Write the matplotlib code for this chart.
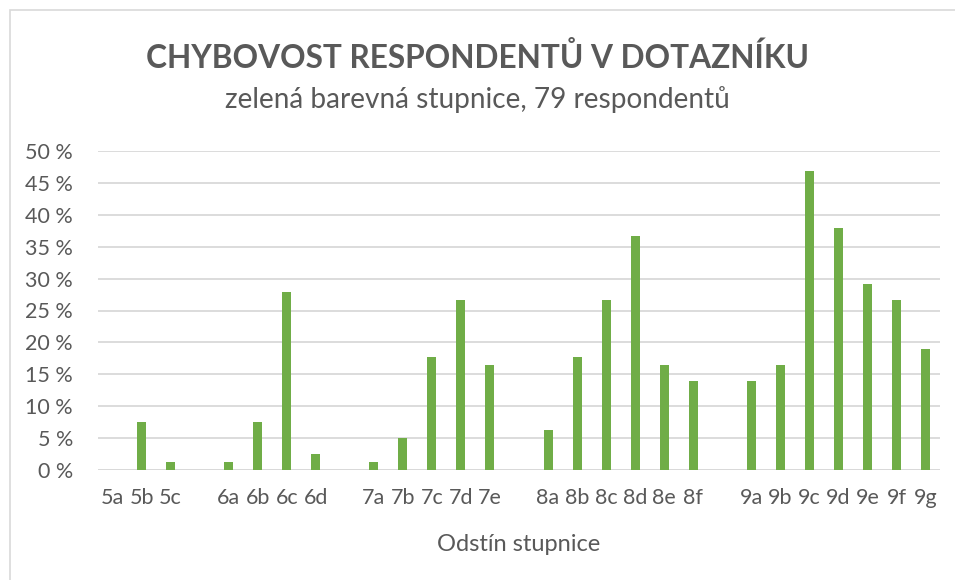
import matplotlib
matplotlib.use("Agg")
from matplotlib import pyplot as plt
from matplotlib.patches import Rectangle
import numpy as np

plt.rcParams['font.family'] = ['Lato', 'DejaVu Sans']

# odstíny a chybovost (%), prázdné položky = mezery mezi skupinami
odstiny = ['5a', '5b', '5c', '',
           '6a', '6b', '6c', '6d', '',
           '7a', '7b', '7c', '7d', '7e', '',
           '8a', '8b', '8c', '8d', '8e', '8f', '',
           '9a', '9b', '9c', '9d', '9e', '9f', '9g']
chybovost = [0.0, 7.59, 1.27, np.nan,
             1.27, 7.59, 27.85, 2.53, np.nan,
             1.27, 5.06, 17.72, 26.58, 16.46, np.nan,
             6.33, 17.72, 26.58, 36.71, 16.46, 13.92, np.nan,
             13.92, 16.46, 46.84, 37.97, 29.11, 26.58, 18.99]
yticks = [0, 5, 10, 15, 20, 25, 30, 35, 40, 45, 50]

barva = '#70ad47'
seda = '#595959'

fig = plt.figure(figsize=(9.55, 5.8), dpi=100)
ax = fig.add_axes([98/955, 1-470/580, 842/955, 319/580])

x = np.arange(len(odstiny))
ax.bar(x, np.nan_to_num(chybovost), width=0.31, color=barva, zorder=3)

ax.set_xlim(-0.5, len(odstiny)-0.5)
ax.set_ylim(0, 50)
ax.set_yticks(yticks)
ax.set_yticklabels([f'{v} %' for v in yticks])
ax.set_xticks(x)
ax.set_xticklabels(odstiny)
ax.tick_params(axis='both', length=0, labelsize=15.5, colors=seda)
ax.tick_params(axis='x', pad=13)
ax.tick_params(axis='y', pad=18)
ax.grid(axis='y', color='#d9d9d9', linewidth=1.3, zorder=0)
for s in ax.spines.values():
    s.set_visible(False)
ax.axhline(0, color='#d9d9d9', linewidth=1.3, zorder=2)

ax.set_xlabel('Odstín stupnice', fontsize=17, color=seda, labelpad=19)

fig.text(0.5, 1-58/580, 'CHYBOVOST RESPONDENTŮ V DOTAZNÍKU', ha='center', va='center',
         fontsize=22.8, fontweight='bold', color=seda)
fig.text(0.5, 1-100/580, 'zelená barevná stupnice, 79 respondentů', ha='center', va='center',
         fontsize=20.2, color=seda)

# rámeček grafu
fig.patches.append(Rectangle((10/955, -0.1), 1.2, 1-10/580+0.1, transform=fig.transFigure,
                             fill=False, edgecolor='#d9d9d9', linewidth=1.2))

fig.savefig('out.png', dpi=100)
